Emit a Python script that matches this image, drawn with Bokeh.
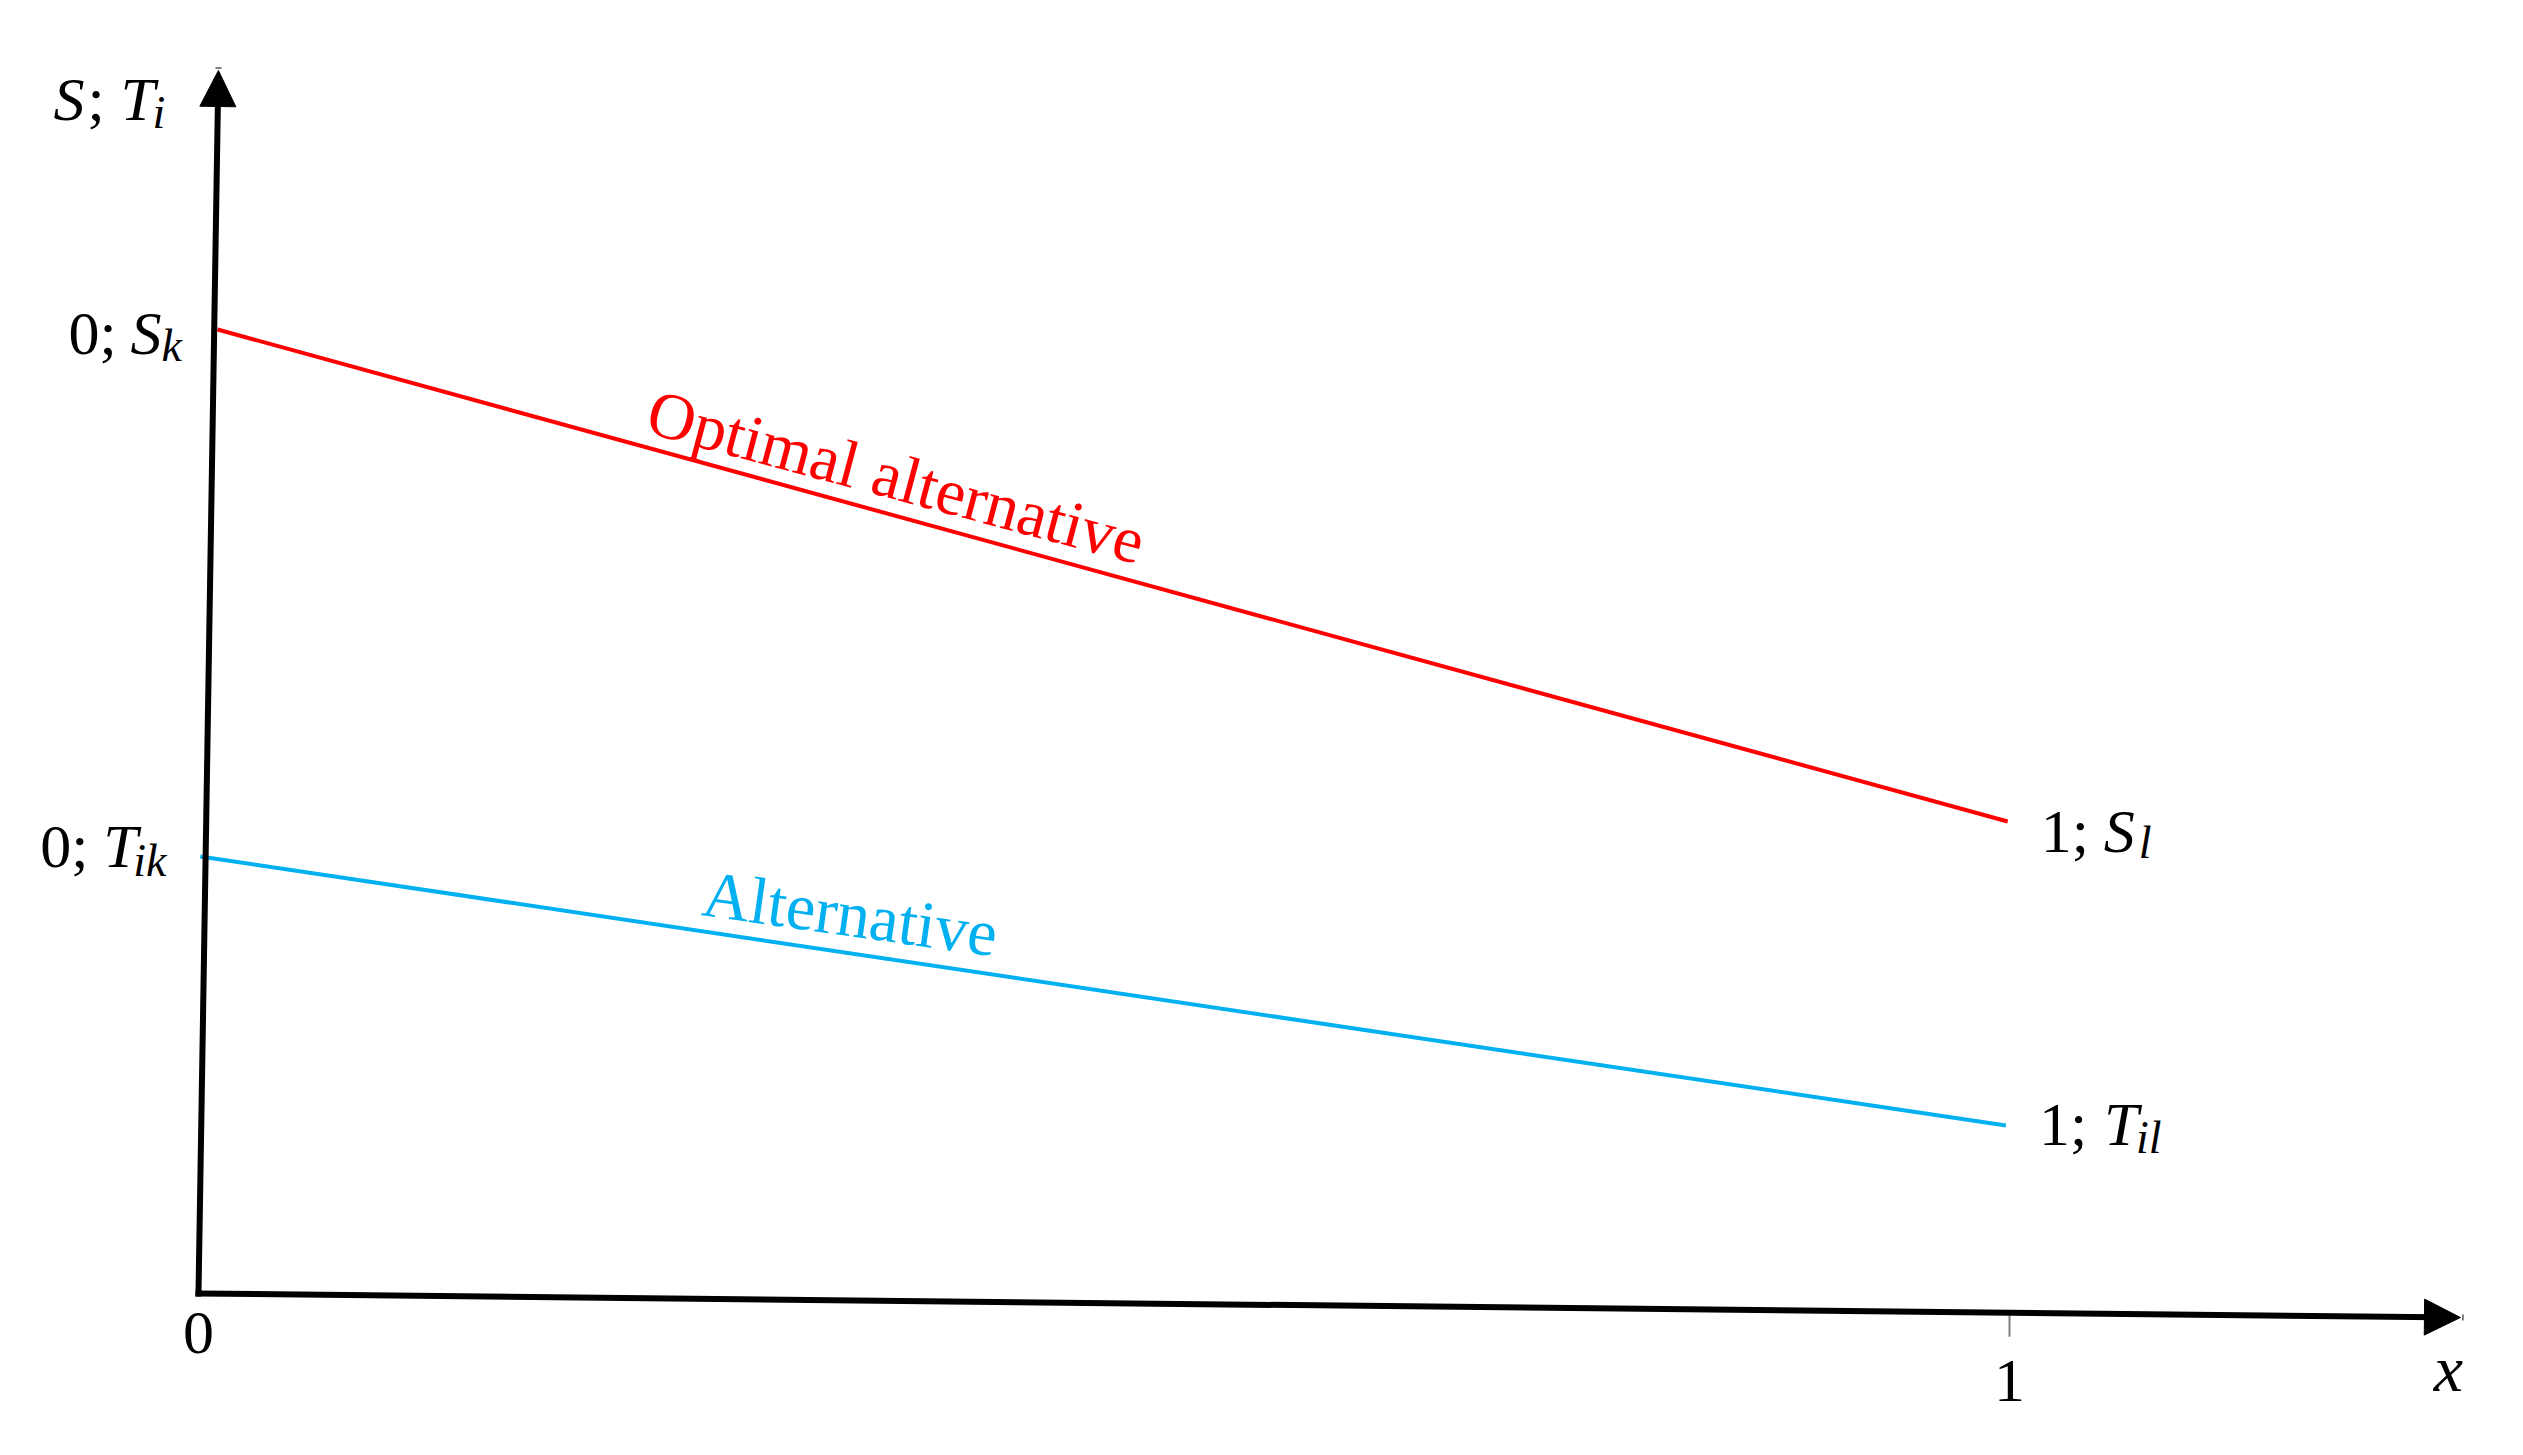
import math
from bokeh.plotting import figure
from bokeh.models import Range1d, Arrow, NormalHead
from bokeh.core.properties import value
from bokeh.embed import file_html
from bokeh.resources import INLINE

# ---- data ----
optimal_x = [0.0105, 0.999]
optimal_y = [0.964, 0.472]
alternative_x = [0.001, 0.998]
alternative_y = [0.437, 0.168]
x_ticks = [1]
x_tick_labels = ["1"]
origin_label = "0"
# hand-drawn axes: end points of the two arrows (start at origin)
y_axis_top = (0.011, 1.223)
x_axis_end = (1.249, -0.024)

# ---- layout ----
W, H = 2505, 1437
X0, KX = 198.0, 1811.0   # canvas px of x=0, px per x unit
Y0, KY = 1293.0, 1000.0  # canvas px of y=0, px per y unit
SH = -20                 # baseline correction for text pieces (px)

p = figure(width=W, height=H,
           x_range=Range1d(-X0 / KX, (W - X0) / KX),
           y_range=Range1d((Y0 - H) / KY, Y0 / KY),
           output_backend="svg", toolbar_location=None,
           x_axis_location=None, y_axis_location=None,
           min_border=0, outline_line_color=None,
           background_fill_color="white", border_fill_color="white")
p.grid.visible = False

FONT = value("Liberation Serif")

# axes
for (ex, ey) in [y_axis_top, x_axis_end]:
    p.add_layout(Arrow(x_start=0, y_start=0, x_end=ex, y_end=ey,
                       line_width=6, line_color="black", line_cap="square",
                       end=NormalHead(size=36, fill_color="black", line_color="black", line_width=1)))

# tick mark at x=1
slope_x_axis = x_axis_end[1] / x_axis_end[0]
for t in x_ticks:
    ya = slope_x_axis * t
    p.segment(x0=[t], y0=[ya], x1=[t], y1=[ya - 0.024], line_color="#808080", line_width=2)

# lines
RED = "#FF0000"
BLUE = "#00B0F0"
p.line(optimal_x, optimal_y, line_color=RED, line_width=4)
p.line(alternative_x, alternative_y, line_color=BLUE, line_width=4)

# line labels (rotated along the lines)
p.text(x=[0.388], y=[0.786], text=["Optimal alternative"], angle=math.radians(-15.0),
       x_offset=-5, y_offset=-31,
       text_font=FONT, text_font_size="66px", text_color=RED,
       text_align="center", text_baseline="alphabetic")
p.text(x=[0.361], y=[0.362], text=["Alternative"], angle=math.radians(-8.0),
       x_offset=-2, y_offset=-18,
       text_font=FONT, text_font_size="66px", text_color=BLUE,
       text_align="center", text_baseline="alphabetic")


def label(ax, ay, pieces):
    for (t, style, size, dx, dy) in pieces:
        p.text(x=[ax], y=[ay], text=[t], x_offset=dx, y_offset=dy + SH,
               text_font=FONT, text_font_style=style, text_font_size=f"{size}px",
               text_color="black", text_align="left", text_baseline="alphabetic")


# y-axis title  S; T_i
label(y_axis_top[0], y_axis_top[1], [
    ("S", "italic", 62, -165, 48),
    (";", "normal", 62, -131, 48),
    ("T", "italic", 62, -98, 48),
    ("i", "italic", 46, -66, 62),
])
# 0; S_k
label(optimal_x[0], optimal_y[0], [
    ("0;", "normal", 62, -149, 23),
    ("S", "italic", 62, -87, 23),
    ("k", "italic", 46, -56, 36),
])
# 0; T_ik
label(alternative_x[0], alternative_y[0], [
    ("0;", "normal", 62, -160, 9),
    ("T", "italic", 62, -97, 9),
    ("ik", "italic", 46, -67, 24),
])
# 1; S_l
label(optimal_x[1], optimal_y[1], [
    ("1;", "normal", 62, 33, 29),
    ("S", "italic", 62, 96, 29),
    ("l", "italic", 46, 131, 41),
])
# 1; T_il
label(alternative_x[1], alternative_y[1], [
    ("1;", "normal", 62, 33, 18),
    ("T", "italic", 62, 98, 18),
    ("il", "italic", 46, 130, 32),
])

# tick labels
p.text(x=[0], y=[0], text=[origin_label], y_offset=59 + SH, text_font=FONT,
       text_font_size="62px", text_align="center", text_baseline="alphabetic", text_color="black")
for t, lab in zip(x_ticks, x_tick_labels):
    p.text(x=[t], y=[0], text=[lab], y_offset=107 + SH, text_font=FONT,
           text_font_size="62px", text_align="center", text_baseline="alphabetic", text_color="black")
# x axis title
p.text(x=[x_axis_end[0]], y=[x_axis_end[1]], text=["x"], x_offset=-12, y_offset=71 + SH,
       text_font=FONT, text_font_style="italic", text_font_size="66px",
       text_align="center", text_baseline="alphabetic", text_color="black")

open("out.html", "w").write(file_html(p, INLINE))
